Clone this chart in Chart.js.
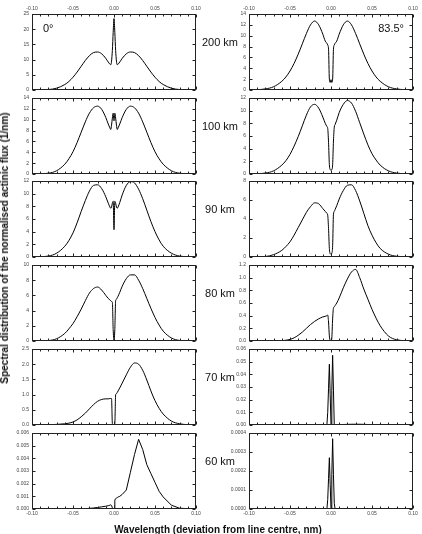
<!DOCTYPE html>
<html>
<head>
<meta charset="utf-8">
<script src="https://cdn.jsdelivr.net/npm/chart.js@4.4.1/dist/chart.umd.min.js"></script>
<style>
  body { margin: 0; width: 422px; height: 534px; background: #fff; position: relative; overflow: hidden;
         font-family: "Liberation Sans", Arial, sans-serif; color: #111; }
  canvas { position: absolute; }
  .txt { position: absolute; white-space: nowrap; line-height: 1; }
  .km { font-size: 11px; width: 60px; text-align: center; }
  .ang { font-size: 11px; top: 23px; }
  .title { font-size: 10px; font-weight: bold; }
</style>
</head>
<body>
<div id="labels"></div>
<script>
// wavelength grid (deviation from line centre, nm)
const wavelength = [-0.100, -0.080, -0.070, -0.060, -0.055, -0.050, -0.045, -0.040, -0.035, -0.030,
  -0.025, -0.020, -0.015, -0.010, -0.007, -0.005, -0.004, -0.003, -0.002, -0.001, 0.000,
  0.001, 0.002, 0.003, 0.004, 0.005, 0.007, 0.010, 0.015, 0.020, 0.025, 0.030, 0.035,
  0.040, 0.045, 0.050, 0.055, 0.060, 0.070, 0.080, 0.100];

const altitudes = ['200 km', '100 km', '90 km', '80 km', '70 km', '60 km'];

// solar zenith angle 0 deg
const sza0_200 = [0, 0.15, 0.6, 1.8, 2.8, 4.2, 5.9, 7.8, 9.7, 11.3, 12.3, 12.5, 11.9, 10.4, 9.2, 8.5, 8.3, 9.5, 13.0, 19.0,
  23.5, 19.0, 13.0, 9.5, 8.3, 8.5, 9.2, 10.4, 11.9, 12.5, 12.3, 11.3, 9.7, 7.8, 5.9, 4.2, 2.8, 1.8, 0.6, 0.15, 0];
const sza0_100 = [0, 0.15, 0.6, 1.8, 2.8, 4.1, 5.8, 7.7, 9.6, 11.2, 12.2, 12.5, 11.9, 10.4, 9.2, 8.5, 8.2, 9.0, 10.3, 11.2,
  9.8, 11.2, 10.3, 9.0, 8.2, 8.5, 9.2, 10.4, 11.9, 12.5, 12.2, 11.2, 9.6, 7.7, 5.8, 4.1, 2.8, 1.8, 0.6, 0.15, 0];
const sza0_90 = [0, 0.15, 0.6, 1.7, 2.6, 3.8, 5.4, 7.2, 8.9, 10.4, 11.3, 11.4, 10.8, 9.5, 8.5, 7.9, 7.7, 7.9, 8.5, 8.8,
  4.3, 8.8, 8.5, 7.9, 7.7, 7.9, 8.6, 9.8, 11.3, 11.9, 11.7, 10.7, 9.2, 7.4, 5.6, 4.0, 2.7, 1.7, 0.6, 0.15, 0];
const sza0_80 = [0, 0.06, 0.3, 1.0, 1.6, 2.3, 3.2, 4.2, 5.3, 6.3, 6.9, 7.1, 6.7, 6.0, 5.6, 5.4, 5.3, 5.2, 5.1, 1.5,
  0.1, 1.5, 5.3, 5.5, 5.7, 5.9, 6.4, 7.2, 8.2, 8.7, 8.7, 8.0, 6.9, 5.6, 4.3, 3.1, 2.1, 1.3, 0.4, 0.08, 0];
const sza0_70 = [0, 0.01, 0.02, 0.04, 0.06, 0.1, 0.17, 0.27, 0.39, 0.53, 0.67, 0.78, 0.84, 0.86, 0.86, 0.87, 0.87, 0.87, 0.05, 0,
  0, 0.05, 1.0, 1.03, 1.07, 1.12, 1.22, 1.38, 1.65, 1.9, 2.04, 2.0, 1.8, 1.48, 1.12, 0.8, 0.55, 0.36, 0.13, 0.04, 0];
const sza0_60 = [0, 0, 0, 0, 0, 0, 0.00001, 0.00002, 0.00003, 0.00005, 0.00008, 0.00012, 0.00017, 0.00022, 0.00026, 0.0003, 0.00033, 0.00028, 0.0001, 0,
  0, 0.0007, 0.00082, 0.00086, 0.0009, 0.00095, 0.001, 0.00115, 0.0015, 0.0029, 0.0043, 0.0055, 0.0047, 0.0035, 0.0028, 0.0021, 0.0014, 0.00095, 0.0003, 0.00006, 0];

// solar zenith angle 83.5 deg
const sza835_200 = [0, 0.2, 0.6, 1.6, 2.4, 3.5, 4.9, 6.6, 8.5, 10.4, 12.0, 12.7, 12.0, 10.3, 9.0, 8.6, 8.3, 7.5, 2.0, 1.4,
  1.9, 1.4, 2.0, 7.5, 8.3, 8.6, 9.0, 10.3, 12.0, 12.7, 12.0, 10.4, 8.5, 6.6, 4.9, 3.5, 2.4, 1.6, 0.6, 0.2, 0];
const sza835_100 = [0, 0.15, 0.5, 1.4, 2.1, 3.1, 4.4, 5.9, 7.6, 9.3, 10.6, 11.0, 10.4, 9.0, 8.0, 7.5, 7.2, 5.0, 1.5, 0.7,
  0.6, 0.7, 1.5, 5.2, 7.4, 7.8, 8.5, 9.7, 11.0, 11.6, 11.2, 9.9, 8.1, 6.3, 4.6, 3.2, 2.2, 1.4, 0.5, 0.15, 0];
const sza835_90 = [0, 0.05, 0.25, 0.7, 1.1, 1.6, 2.3, 3.1, 3.9, 4.7, 5.3, 5.7, 5.6, 5.1, 4.8, 4.6, 4.4, 3.0, 0.9, 0.35,
  0.3, 0.4, 1.2, 4.5, 4.8, 5.0, 5.4, 6.1, 7.0, 7.55, 7.6, 7.0, 5.9, 4.6, 3.3, 2.3, 1.5, 0.9, 0.3, 0.08, 0];
const sza835_80 = [0, 0, 0, 0.005, 0.012, 0.025, 0.05, 0.09, 0.14, 0.2, 0.26, 0.31, 0.35, 0.38, 0.39, 0.40, 0.41, 0.3, 0.08, 0.01,
  0, 0.05, 0.35, 0.52, 0.54, 0.56, 0.6, 0.68, 0.84, 0.98, 1.09, 1.13, 1.0, 0.82, 0.66, 0.5, 0.36, 0.24, 0.08, 0.02, 0];
const sza835_70 = [0, 0, 0, 0, 0, 0, 0, 0, 0, 0, 0, 0, 0, 0, 0, 0, 0.01, 0.029, 0.048, 0.024,
  0, 0.0275, 0.055, 0.0275, 0, 0, 0.0002, 0.0003, 0.0004, 0.0005, 0.0006, 0.0006, 0.0006, 0.0005, 0.0004, 0.0003, 0.0002, 0.0001, 0, 0, 0];
const sza835_60 = [0, 0, 0, 0, 0, 0, 0, 0, 0, 0, 0, 0, 0, 0, 0, 0, 0.00005, 0.00016, 0.00027, 0.00013,
  0, 0.00018, 0.00037, 0.00018, 0.00003, 0, 0, 0, 0, 0, 0, 0, 0, 0, 0, 0, 0, 0, 0, 0, 0];

const leftSeries = [sza0_200, sza0_100, sza0_90, sza0_80, sza0_70, sza0_60];
const rightSeries = [sza835_200, sza835_100, sza835_90, sza835_80, sza835_70, sza835_60];
const leftMax = [25, 14, 12, 10, 2.5, 0.006];
const leftStep = [5, 2, 2, 2, 0.5, 0.001];
const leftDec = [0, 0, 0, 0, 1, 3];
const rightMax = [14, 12, 8, 1.2, 0.06, 0.0004];
const rightStep = [2, 2, 2, 0.2, 0.01, 0.0001];
const rightDec = [0, 0, 0, 1, 2, 4];

// layout
const plotLeft = [32, 249];
const plotW = 164, plotH = 76;
const rowTop = i => 14 + i * 83.7;
const AXW = 30, PADR = 6, AXH = 12;

const frameTicks = {
  id: 'frameTicks',
  afterDatasetsDraw(chart) {
    const { ctx, chartArea: a, scales } = chart;
    const l = Math.round(a.left) + 0.5, r = Math.round(a.right) - 0.5;
    const t = Math.round(a.top) + 0.5, b = Math.round(a.bottom) - 0.5;
    ctx.save();
    ctx.strokeStyle = '#222';
    ctx.lineWidth = 1;
    ctx.beginPath();
    scales.x.ticks.forEach((tk, i) => {
      const px = Math.round(scales.x.getPixelForValue(tk.value)) + 0.5;
      const len = i % 5 === 0 ? 3 : 2;
      ctx.moveTo(px, t); ctx.lineTo(px, t + len);
      ctx.moveTo(px, b); ctx.lineTo(px, b - len);
    });
    scales.y.ticks.forEach(tk => {
      const py = Math.round(scales.y.getPixelForValue(tk.value)) + 0.5;
      ctx.moveTo(l, py); ctx.lineTo(l + 3, py);
      ctx.moveTo(r, py); ctx.lineTo(r - 3, py);
    });
    ctx.stroke();
    ctx.strokeRect(l, t, r - l, b - t);
    ctx.restore();
  }
};

function fmtX(v) {
  return Math.abs(v) < 1e-9 ? '0.00' : v.toFixed(2);
}

function makePanel(col, row, values, max, step, dec, straight) {
  const canvas = document.createElement('canvas');
  const top = Math.round(rowTop(row)) - AXH;
  canvas.width = AXW + plotW + PADR;
  canvas.height = plotH + 2 * AXH;
  canvas.style.left = (plotLeft[col] - AXW) + 'px';
  canvas.style.top = top + 'px';
  document.body.appendChild(canvas);

  const isTop = row === 0, isBottom = row === 5;
  const tickFont = { family: 'Liberation Sans', size: 5 };

  new Chart(canvas, {
    type: 'line',
    data: {
      datasets: [{
        data: wavelength.map((x, i) => ({ x, y: values[i] })),
        borderColor: '#000',
        borderWidth: 1,
        pointRadius: 0,
        tension: 0,
        cubicInterpolationMode: straight ? 'default' : 'monotone'
      }]
    },
    options: {
      responsive: false,
      animation: false,
      events: [],
      layout: { padding: { left: 0, right: PADR, top: isTop ? 0 : AXH, bottom: isBottom ? 0 : AXH } },
      plugins: { legend: { display: false }, tooltip: { enabled: false } },
      scales: {
        x: {
          type: 'linear',
          position: isTop ? 'top' : 'bottom',
          min: -0.1,
          max: 0.1,
          grid: { display: false, drawTicks: false },
          border: { display: false },
          ticks: {
            display: isTop || isBottom,
            stepSize: 0.01,
            autoSkip: false,
            maxRotation: 0,
            padding: 2,
            color: '#444',
            font: tickFont,
            callback: (v, i) => (i % 5 === 0 ? fmtX(v) : '')
          },
          afterFit: s => {
            s.height = (isTop || isBottom) ? AXH : 0;
            s.paddingLeft = 0;
            s.paddingRight = 0;
          }
        },
        y: {
          min: 0,
          max: max,
          grid: { display: false, drawTicks: false },
          border: { display: false },
          ticks: {
            stepSize: step,
            padding: 3,
            color: '#444',
            font: tickFont,
            callback: v => v.toFixed(dec)
          },
          afterFit: s => { s.width = AXW; }
        }
      }
    },
    plugins: [frameTicks]
  });
}

for (let r = 0; r < 6; r++) {
  makePanel(0, r, leftSeries[r], leftMax[r], leftStep[r], leftDec[r], r === 5);
  makePanel(1, r, rightSeries[r], rightMax[r], rightStep[r], rightDec[r], r >= 4);
}

// text labels
function addText(cls, text, style) {
  const d = document.createElement('div');
  d.className = 'txt ' + cls;
  d.textContent = text;
  Object.assign(d.style, style);
  d.style.zIndex = 5;
  document.body.appendChild(d);
  return d;
}
altitudes.forEach((t, i) => {
  addText('km', t, { left: '190px', top: (rowTop(i) + 23) + 'px' });
});
addText('ang', '0°', { left: '43px' });
addText('ang', '83.5°', { right: '18px' });
addText('title', 'Wavelength (deviation from line centre, nm)',
  { left: '218px', top: '524.5px', transform: 'translateX(-50%)' });
addText('title', 'Spectral distribution of the normalised actinic flux (1/nm)',
  { left: '5px', top: '248px', transform: 'translate(-50%, -50%) rotate(-90deg)' });
</script>
</body>
</html>
